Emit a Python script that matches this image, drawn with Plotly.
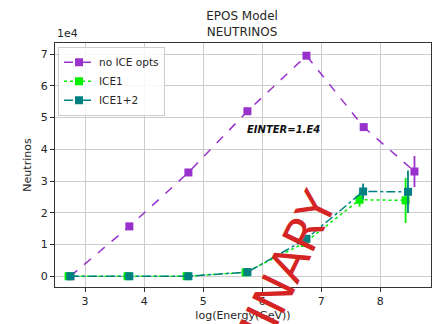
import plotly.graph_objects as go

SCALE = 1e4

# no ICE opts
x_noice = [2.75, 3.75, 4.75, 5.75, 6.75, 7.72, 8.58]
y_noice = [0, 15700, 32700, 52000, 69500, 47000, 33000]
e_noice = [0, 0, 0, 0, 0, 0, 4900]

# ICE1
x_ice1 = [2.72, 3.72, 4.72, 5.72, 6.72, 7.65, 8.43]
y_ice1 = [0, 0, 0, 1200, 10500, 24100, 23900]
e_ice1 = [0, 0, 0, 0, 0, 2200, 7100]

# ICE1+2
x_ice12 = [2.75, 3.75, 4.75, 5.75, 6.75, 7.71, 8.47]
y_ice12 = [0, 0, 0, 1300, 11800, 26700, 26600]
e_ice12 = [0, 0, 0, 0, 0, 2500, 6700]

x_ticks = [3, 4, 5, 6, 7, 8]
y_ticks = [0, 1, 2, 3, 4, 5, 6, 7]

FONT = "DejaVu Sans"
TXT = "#262626"

def sc(v):
    return [a / SCALE for a in v]

fig = go.Figure()
fig.add_trace(go.Scatter(
    x=x_noice, y=sc(y_noice), name="no ICE opts", mode="lines+markers",
    line=dict(color="#9932CC", width=1.5, dash="dash"),
    marker=dict(symbol="square", size=8, color="#9932CC"),
    error_y=dict(type="data", array=sc(e_noice), color="#9932CC", thickness=1.8, width=0),
))
fig.add_trace(go.Scatter(
    x=x_ice1, y=sc(y_ice1), name="ICE1", mode="lines+markers",
    line=dict(color="#00F000", width=1.5, dash="dot"),
    marker=dict(symbol="square", size=8, color="#00F000"),
    error_y=dict(type="data", array=sc(e_ice1), color="#00F000", thickness=1.8, width=0),
))
fig.add_trace(go.Scatter(
    x=x_ice12, y=sc(y_ice12), name="ICE1+2", mode="lines+markers",
    line=dict(color="#008080", width=1.5, dash="dashdot"),
    marker=dict(symbol="square", size=8, color="#008080"),
    error_y=dict(type="data", array=sc(e_ice12), color="#008080", thickness=1.8, width=0),
))

axis_common = dict(
    showgrid=True, gridcolor="#cccccc", gridwidth=1,
    showline=True, linecolor="#333333", linewidth=1, mirror=True,
    ticks="outside", ticklen=4, tickcolor="#333333",
    tickfont=dict(family=FONT, size=11, color=TXT),
    zeroline=False,
)

fig.update_layout(
    width=436, height=324,
    margin=dict(l=55, r=5, t=43, b=37),
    paper_bgcolor="white", plot_bgcolor="white",
    font=dict(family=FONT, color=TXT),
    title=dict(text="EPOS Model<br>NEUTRINOS", x=(242) / 436, xanchor="center",
               y=1 - 20 / 324, yanchor="middle",
               font=dict(family=FONT, size=12, color=TXT)),
    xaxis=dict(range=[2.49, 8.86], tickvals=x_ticks,
               title=dict(text="log(Energy(GeV))", font=dict(family=FONT, size=11, color=TXT), standoff=4),
               **axis_common),
    yaxis=dict(range=[-0.34, 7.35], tickvals=y_ticks,
               title=dict(text="Neutrinos", font=dict(family=FONT, size=11, color=TXT), standoff=6),
               **axis_common),
    legend=dict(x=0.008, y=0.985, xanchor="left", yanchor="top",
                bgcolor="rgba(255,255,255,0.85)", bordercolor="#cccccc", borderwidth=1,
                font=dict(family=FONT, size=10.5, color=TXT),
                tracegroupgap=0, itemwidth=30),
    showlegend=True,
)

fig.add_annotation(text="1e4", xref="paper", yref="paper", x=0, y=1, xanchor="left",
                   yanchor="bottom", showarrow=False, yshift=1,
                   font=dict(family=FONT, size=11, color=TXT))
fig.add_annotation(text="<b><i>EINTER=1.E4</i></b>", xref="x", yref="y", x=6.36, y=4.61,
                   showarrow=False, font=dict(family=FONT, size=10, color="#111111"))
fig.add_annotation(text="PRELIMINARY", xref="paper", yref="paper",
                   x=(253 - 55) / 376, y=(287 - 337) / 244, xanchor="center", yanchor="middle",
                   showarrow=False, textangle=-64,
                   font=dict(family=FONT, size=48, color="#d42424"))

fig.write_html("out.html")
